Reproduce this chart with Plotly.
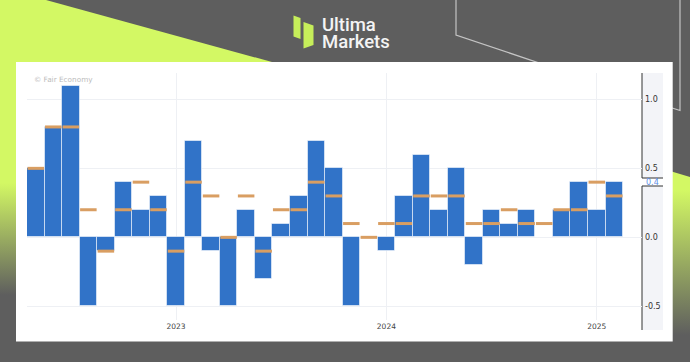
import plotly.graph_objects as go
import pandas as pd

# ---------------- data ----------------
months = list(pd.period_range("2022-05", "2025-02", freq="M").strftime("%Y-%m"))
actual = [0.5, 0.8, 1.1, -0.5, -0.1, 0.4, 0.2, 0.3, -0.5, 0.7,
          -0.1, -0.5, 0.2, -0.3, 0.1, 0.3, 0.7, 0.5, -0.5, 0.0,
          -0.1, 0.3, 0.6, 0.2, 0.5, -0.2, 0.2, 0.1, 0.2, 0.0,
          0.2, 0.4, 0.2, 0.4]
forecast = [0.5, 0.8, 0.8, 0.2, -0.1, 0.2, 0.4, 0.2, -0.1, 0.4,
            0.3, 0.0, 0.3, -0.1, 0.2, 0.2, 0.4, 0.3, 0.1, 0.0,
            0.1, 0.1, 0.3, 0.3, 0.3, 0.1, 0.1, 0.2, 0.1, 0.1,
            0.2, 0.2, 0.4, 0.3]
year_ticks = ["2023-01", "2024-01", "2025-01"]
year_labels = ["2023", "2024", "2025"]
y_ticks = [-0.5, 0.0, 0.5, 1.0]
y_labels = ["-0.5", "0.0", "0.5", "1.0"]
last_label = "0.4"

# ---------------- style ----------------
W, H = 690, 362
GREEN = "#d3f864"
GRAY = "#5e5e5e"
BAR = "#3173c8"
ORANGE = "#d99e62"
GRID = "#eef0f4"

fig = go.Figure()


def bg(xs, ys, color=None, grad=None, line=None, width=1):
    kw = dict(x=xs, y=ys, xaxis="x", yaxis="y", hoverinfo="skip", showlegend=False)
    if line:
        fig.add_trace(go.Scatter(mode="lines", line=dict(color=line, width=width), **kw))
    else:
        tr = go.Scatter(mode="lines", fill="toself", line=dict(width=0),
                        fillcolor=color, **kw)
        if grad:
            tr.update(fillgradient=grad)
        fig.add_trace(tr)


# green decorative areas
bg([0, 46, 290, 290, 0], [0, 0, 67, 70, 70], color=GREEN)
bg([0, 20, 20, 0], [60, 60, 362, 362],
   grad=dict(type="vertical", colorscale=[[0, GREEN], [1, GRAY]], start=183, stop=295))
bg([660, 690, 690, 660], [168, 177, 362, 362],
   grad=dict(type="vertical", colorscale=[[0, GREEN], [1, GRAY]], start=190, stop=335))
# thin decorative lines
bg([456, 456, 560], [0, 35, 70], line="#c4c4c4", width=1.2)
bg([600, 680, 680], [85, 110.5, 0], line="#c4c4c4", width=1.2)
# white panel
bg([16, 672.7, 672.7, 16], [62, 62, 341.5, 341.5], color="white")
# price scale band
bg([642, 663, 663, 642], [73, 73, 330, 330], color="#f3f4f8")
bg([642, 663, 663, 642], [178, 178, 186, 186], color="white")
bg([642, 642, 663], [73, 178, 178], line="#333333", width=1)
bg([663, 642, 642], [186, 186, 330], line="#333333", width=1)

# ---------------- data traces ----------------
fig.add_trace(go.Bar(
    x=months, y=actual, xaxis="x2", yaxis="y2",
    marker=dict(color=BAR, line=dict(color="rgba(255,255,255,0.55)", width=1)),
    hoverinfo="skip", showlegend=False))
fig.add_trace(go.Scatter(
    x=months, y=forecast, xaxis="x2", yaxis="y2", mode="markers",
    marker=dict(symbol="line-ew", size=11.8, color=ORANGE,
                line=dict(color=ORANGE, width=3)),
    hoverinfo="skip", showlegend=False))

fig.update_layout(
    width=W, height=H,
    margin=dict(l=0, r=0, t=0, b=0),
    paper_bgcolor=GRAY, plot_bgcolor="rgba(0,0,0,0)",
    bargap=0, hovermode=False,
    xaxis=dict(domain=[0, 1], range=[0, W], visible=False, fixedrange=True),
    yaxis=dict(domain=[0, 1], range=[H, 0], visible=False, fixedrange=True),
    xaxis2=dict(domain=[27 / W, 642 / W], anchor="y2", type="category",
                range=[-0.5, 34.58], tickmode="array", tickvals=year_ticks,
                ticktext=year_labels, showgrid=True, gridcolor=GRID, gridwidth=1,
                showline=False, zeroline=False, ticks="", fixedrange=True,
                tickfont=dict(family="DejaVu Sans", size=7.5, color="#444444")),
    yaxis2=dict(domain=[1 - 320 / H, 1 - 73 / H], anchor="x2", side="right",
                range=[-0.599, 1.191], tickmode="array", tickvals=y_ticks,
                ticktext=y_labels, showgrid=True, gridcolor=GRID, gridwidth=1,
                zeroline=False, showline=False, ticks="", ticklabelstandoff=2,
                fixedrange=True,
                tickfont=dict(family="DejaVu Sans", size=8, color="#333333")),
    font=dict(family="DejaVu Sans"),
)

# logo icon
fig.add_shape(type="path", xref="x", yref="y",
              path="M293.5,15.5 L300.5,18 L300.5,39 L293.5,36.5 Z",
              fillcolor="#c6ee5a", line=dict(width=0))
fig.add_shape(type="path", xref="x", yref="y",
              path="M303.5,22 L313.5,25.5 L313.5,45 L303.5,48.5 Z",
              fillcolor="#c6ee5a", line=dict(width=0))

ann = [
    dict(text="Ultima", x=320, y=25, size=18.5),
    dict(text="Markets", x=320, y=41.5, size=18.5),
]
for a in ann:
    fig.add_annotation(text=a["text"], x=a["x"], y=a["y"], xref="x", yref="y",
                       xanchor="left", yanchor="middle", showarrow=False,
                       font=dict(family="Roboto", size=a["size"], color="#f4f4f4",
                                 weight=500))
fig.add_annotation(text="© Fair Economy", x=32, y=79, xref="x", yref="y",
                   xanchor="left", yanchor="middle", showarrow=False,
                   font=dict(family="DejaVu Sans", size=7.3, color="#bcbcbc"))
fig.add_annotation(text=last_label, x=643.5, y=182, xref="x", yref="y",
                   xanchor="left", yanchor="middle", showarrow=False,
                   font=dict(family="DejaVu Sans", size=8, color="#5b8ee6"))

fig.write_html("out.html", config={"displayModeBar": False},
               post_script="document.body.style.margin='0px';")
